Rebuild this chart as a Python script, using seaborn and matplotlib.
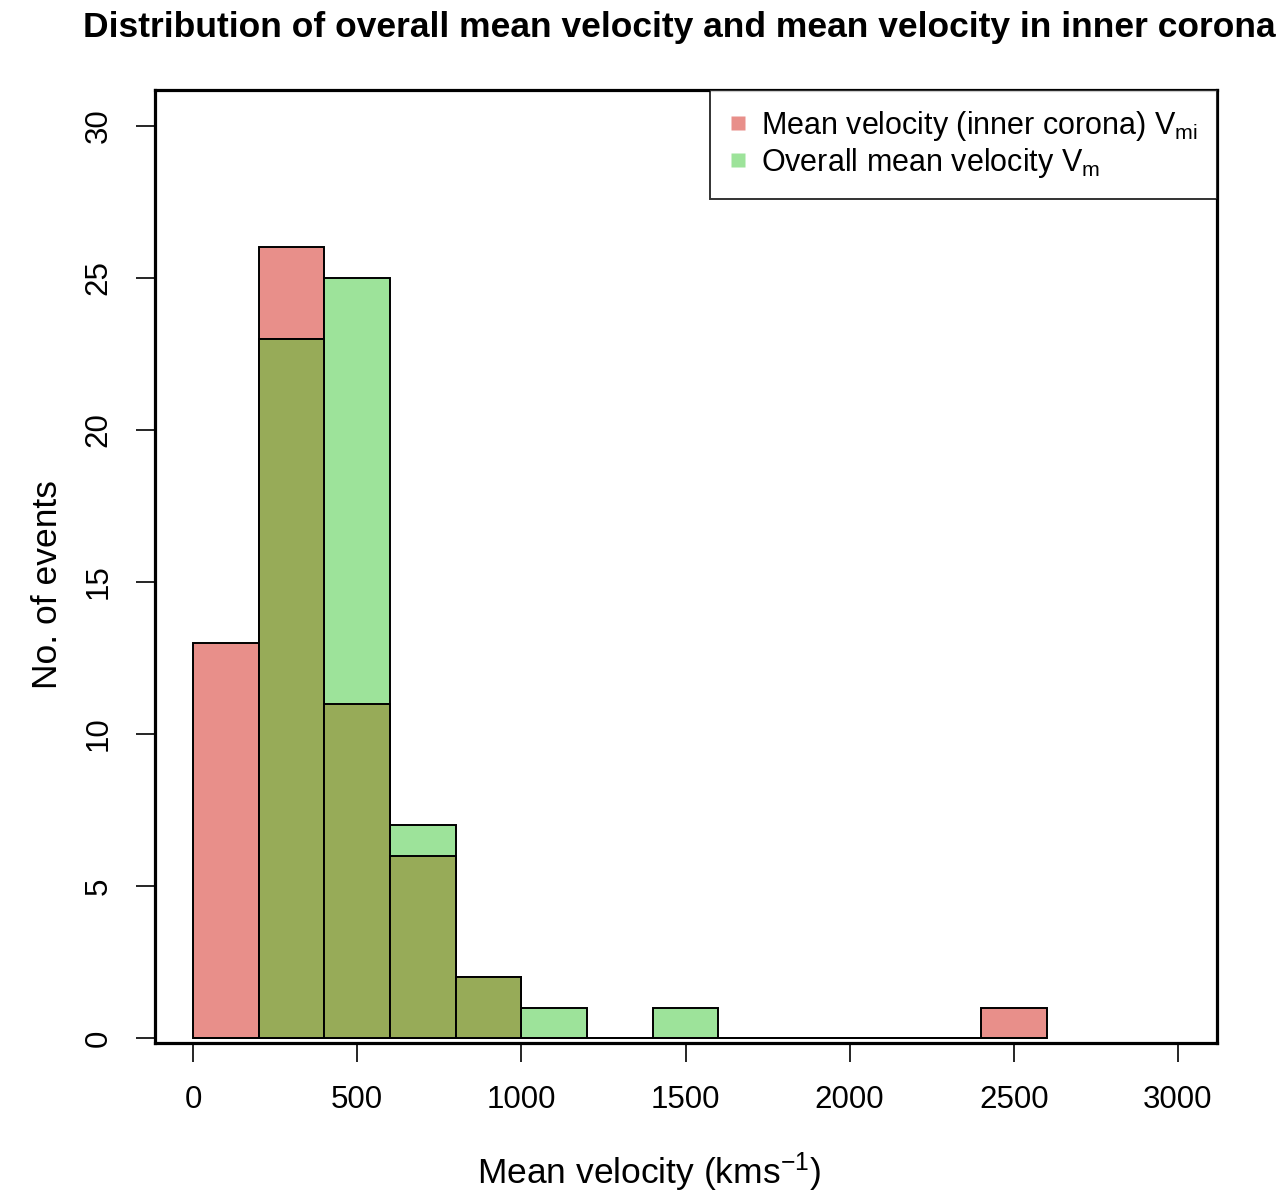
import numpy as np
import pandas as pd
import matplotlib
matplotlib.use("Agg")
import matplotlib.pyplot as plt
import seaborn as sns
from matplotlib.lines import Line2D

# ---- data ----
bin_edges = [0, 200, 400, 600, 800, 1000, 1200, 1400, 1600, 1800, 2000, 2200, 2400, 2600]
inner_counts = [13, 26, 11, 6, 2, 0, 0, 0, 0, 0, 0, 0, 1]     # Mean velocity (inner corona) V_mi
overall_counts = [0, 23, 25, 7, 2, 1, 0, 1, 0, 0, 0, 0, 0]    # Overall mean velocity V_m
x_ticks = [0, 500, 1000, 1500, 2000, 2500, 3000]
y_ticks = [0, 5, 10, 15, 20, 25, 30]

title = "Distribution of overall mean velocity and mean velocity in inner corona"
label_inner = "Mean velocity (inner corona) V$_{mi}$"
label_overall = "Overall mean velocity V$_{m}$"

# ---- style ----
sns.set_theme(style="ticks")
plt.rcParams["font.family"] = ["Liberation Sans", "DejaVu Sans"]
plt.rcParams["mathtext.default"] = "regular"
plt.rcParams["text.color"] = "black"
plt.rcParams["axes.labelcolor"] = "black"
plt.rcParams["xtick.color"] = "black"
plt.rcParams["ytick.color"] = "black"

RED = "#E88F8A"
GREEN = "#9DE39A"
OLIVE = "#97AB58"

W, H = 1287, 1201
fig = plt.figure(figsize=(W / 100, H / 100), dpi=100)
fig.patch.set_facecolor("white")
ax = fig.add_axes([155 / W, 1 - 1043 / H, (1217 - 155) / W, (1043 - 90) / H])

edges = np.array(bin_edges, dtype=float)
centers = (edges[:-1] + edges[1:]) / 2
df = pd.DataFrame({
    "v": centers,
    "inner": np.array(inner_counts, dtype=float),
    "overall": np.array(overall_counts, dtype=float),
})
df["both"] = np.minimum(df["inner"], df["overall"])

for col, c in [("inner", RED), ("overall", GREEN), ("both", OLIVE)]:
    sns.histplot(data=df, x="v", weights=col, bins=list(edges), stat="count",
                 color=c, alpha=1, edgecolor="black", linewidth=1.4, ax=ax)

ax.set_xlim(-116, 3119)
ax.set_ylim(-0.164, 31.18)
ax.set_xticks(x_ticks)
ax.set_yticks(y_ticks)
ax.set_xticklabels([str(v) for v in x_ticks], fontsize=22.5)
ax.set_yticklabels([str(v) for v in y_ticks], fontsize=22.5, rotation=90, va="center")
ax.tick_params(axis="both", direction="out", length=14, width=1.2, color="black", pad=16)

for s in ax.spines.values():
    s.set_visible(True)
    s.set_color("black")
    s.set_linewidth(2.3)

ax.set_xlabel("Mean velocity (kms$^{-1}$)", fontsize=25.5)
ax.set_ylabel("No. of events", fontsize=25.5)
ax.xaxis.set_label_coords((649 - 155) / (1217 - 155), -(1172 - 1043) / (1043 - 90), transform=ax.transAxes)
ax.yaxis.set_label_coords(-(155 - 48) / (1217 - 155), (1043 - 585) / (1043 - 90), transform=ax.transAxes)
ax.xaxis.label.set_va("center")
ax.yaxis.label.set_va("center")

handles = [
    Line2D([], [], marker="s", linestyle="none", markersize=10, markerfacecolor=RED, markeredgecolor="none"),
    Line2D([], [], marker="s", linestyle="none", markersize=10, markerfacecolor=GREEN, markeredgecolor="none"),
]
leg = ax.legend(handles, [label_inner, label_overall], loc="upper right", fontsize=22,
                frameon=True, fancybox=False, borderaxespad=0, handlelength=0.6,
                handletextpad=0.45, labelspacing=0.1, borderpad=0.62)
leg.get_frame().set_edgecolor("black")
leg.get_frame().set_linewidth(1.4)

fig.text(83 / W, 1 - 28 / H, title, ha="left", va="center", fontsize=25.5, fontweight="bold")

fig.savefig("out.png", dpi=100)
